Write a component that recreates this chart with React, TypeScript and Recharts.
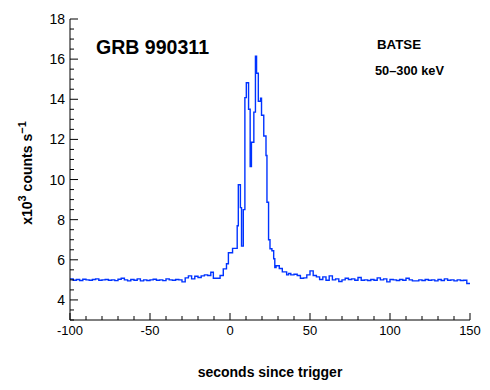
import React from "react";
import { LineChart, Line, XAxis, YAxis } from "recharts";

// 2-s bins before the burst, start times -100 .. -14
const preStart = -100;
const preRates = [
  5.05, 4.98, 5.02, 4.97, 5.03, 5.0, 4.98, 5.02, 5.05, 4.98, 5.0, 5.02, 4.98, 5.0, 4.96,
  5.03, 5.08, 5.0, 4.95, 5.02, 4.98, 5.05, 4.95, 5.0, 4.97, 5.0, 5.03, 4.98, 5.0, 4.96,
  5.05, 5.0, 4.98, 5.02, 5.0, 4.9, 5.1, 5.2, 5.05, 5.18, 5.12, 5.2, 5.25, 5.22,
];

// burst region, irregular bins (start time of each step)
const burstTimes = [
  -12, -10.4, -6.2, -4.2, -2.2, -1.0, 1.6, 4.5, 5.2, 6.5, 7.2, 8.3, 9.3, 10.2, 11.6, 12.6,
  13.4, 14.9, 15.9, 16.6, 17.7, 19.1, 19.7, 21.1, 22.5, 23.1, 24.1, 25.0, 26.2, 27.3, 28.0,
  28.8, 30.8, 32.7, 35.4, 36.6, 38.0,
];
const burstRates = [
  5.38, 5.08, 5.22, 5.55, 5.8, 6.35, 6.57, 7.7, 9.74, 8.6, 6.68, 8.5, 14.08, 14.82, 13.5,
  10.65, 11.86, 13.36, 16.15, 15.3, 13.9, 14.05, 13.2, 12.17, 11.2, 8.87, 7.0, 6.55, 6.45,
  6.05, 5.62, 5.7, 5.57, 5.4, 5.25, 5.32, 5.25,
];

// 2-s bins after the burst, start times 40 .. 148
const postStart = 40;
const postRates = [
  5.28, 5.22, 5.08, 5.1, 5.25, 5.45, 5.22, 5.15, 5.02, 5.15, 4.98, 5.2, 5.0, 5.05, 4.92,
  5.0, 5.08, 5.02, 5.05, 4.98, 5.12, 4.98, 5.0, 4.97, 5.02, 4.98, 5.1, 5.0, 5.05, 4.9,
  5.02, 5.0, 4.97, 5.02, 4.98, 5.08, 5.0, 4.95, 4.95, 5.0, 4.97, 5.02, 4.98, 5.0, 4.95,
  5.02, 4.97, 5.05, 4.98, 5.0, 4.95, 5.0, 4.97, 4.98, 4.82,
];

const xTicks = [
  -100, -90, -80, -70, -60, -50, -40, -30, -20, -10, 0, 10, 20, 30, 40, 50, 60, 70, 80, 90,
  100, 110, 120, 130, 140, 150,
];
const xLabels = [-100, -50, 0, 50, 100, 150];
const yTicks = [
  3, 3.5, 4, 4.5, 5, 5.5, 6, 6.5, 7, 7.5, 8, 8.5, 9, 9.5, 10, 10.5, 11, 11.5, 12, 12.5, 13,
  13.5, 14, 14.5, 15, 15.5, 16, 16.5, 17, 17.5, 18,
];
const yLabels = [4, 6, 8, 10, 12, 14, 16, 18];

const data: { t: number; rate: number }[] = [];
preRates.forEach((r, i) => data.push({ t: preStart + 2 * i, rate: r }));
burstTimes.forEach((t, i) => data.push({ t, rate: burstRates[i] }));
postRates.forEach((r, i) => data.push({ t: postStart + 2 * i, rate: r }));
data.push({ t: 150, rate: postRates[postRates.length - 1] });

const W = 490;
const H = 390;
const TOP = 19;
const BOTTOM = 320;
const LEFT = 70;
const RIGHT = 470;
const FONT = '"Liberation Sans", Arial, Helvetica, sans-serif';

const BottomTick = (props: any) => {
  const { x, payload } = props;
  const v = payload.value;
  const major = xLabels.includes(v);
  return (
    <g>
      <line x1={x} y1={BOTTOM} x2={x} y2={BOTTOM - (major ? 7 : 4)} stroke="#000" />
      {major && (
        <text x={x} y={335} textAnchor="middle" fontSize={13} fontFamily={FONT} fill="#000">
          {v}
        </text>
      )}
    </g>
  );
};

const TopTick = (props: any) => {
  const { x, payload } = props;
  const major = xLabels.includes(payload.value);
  return <line x1={x} y1={TOP} x2={x} y2={TOP + (major ? 7 : 4)} stroke="#000" />;
};

const LeftTick = (props: any) => {
  const { y, payload } = props;
  const v = payload.value;
  const major = yLabels.includes(v);
  return (
    <g>
      <line x1={LEFT} y1={y} x2={LEFT + (major ? 8 : 4)} y2={y} stroke="#000" />
      {major && (
        <text x={65} y={y + 5} textAnchor="end" fontSize={14} fontFamily={FONT} fill="#000">
          {v}
        </text>
      )}
    </g>
  );
};

const RightTick = (props: any) => {
  const { y, payload } = props;
  const major = yLabels.includes(payload.value);
  return <line x1={RIGHT} y1={y} x2={RIGHT - (major ? 6 : 3)} y2={y} stroke="#000" />;
};

export default function App() {
  return (
    <div style={{ position: "absolute", left: 0, top: 0, width: W, height: H, background: "#fff" }}>
      <LineChart
        width={W}
        height={H}
        data={data}
        margin={{ top: TOP, right: W - RIGHT, bottom: 0, left: 0 }}
      >
        <XAxis
          xAxisId="bottom"
          dataKey="t"
          type="number"
          domain={[-100, 150]}
          ticks={xTicks}
          interval={0}
          height={H - BOTTOM}
          tickLine={false}
          axisLine={{ stroke: "#000" }}
          tick={<BottomTick />}
          allowDataOverflow
        />
        <XAxis
          xAxisId="top"
          orientation="top"
          dataKey="t"
          type="number"
          domain={[-100, 150]}
          ticks={xTicks}
          interval={0}
          height={0}
          tickLine={false}
          axisLine={{ stroke: "#000" }}
          tick={<TopTick />}
          allowDataOverflow
        />
        <YAxis
          yAxisId="left"
          type="number"
          domain={[3, 18]}
          ticks={yTicks}
          interval={0}
          width={LEFT}
          tickLine={false}
          axisLine={{ stroke: "#000" }}
          tick={<LeftTick />}
          allowDataOverflow
        />
        <YAxis
          yAxisId="right"
          orientation="right"
          type="number"
          domain={[3, 18]}
          ticks={yTicks}
          interval={0}
          width={0}
          tickLine={false}
          axisLine={{ stroke: "#000" }}
          tick={<RightTick />}
          allowDataOverflow
        />
        <Line
          xAxisId="bottom"
          yAxisId="left"
          type="stepAfter"
          dataKey="rate"
          stroke="#0033ff"
          strokeWidth={1.4}
          dot={false}
          activeDot={false}
          isAnimationActive={false}
        />
      </LineChart>
      <svg
        width={W}
        height={H}
        style={{ position: "absolute", left: 0, top: 0, pointerEvents: "none" }}
        fontFamily={FONT}
      >
        <text x={96} y={54} fontSize={20} fontWeight="bold" textLength={113} lengthAdjust="spacingAndGlyphs">
          GRB 990311
        </text>
        <text x={377} y={49} fontSize={12} fontWeight="bold" textLength={44} lengthAdjust="spacingAndGlyphs">
          BATSE
        </text>
        <text x={375} y={75} fontSize={12} fontWeight="bold" textLength={69} lengthAdjust="spacingAndGlyphs">
          50–300 keV
        </text>
        <text x={270} y={377} fontSize={14} fontWeight="bold" textAnchor="middle">
          seconds since trigger
        </text>
        <text
          transform="translate(32,173) rotate(-90)"
          fontSize={14}
          fontWeight="bold"
          textAnchor="middle"
        >
          x10<tspan dy={-6} fontSize={11}>3</tspan>
          <tspan dy={6}> counts s</tspan>
          <tspan dy={-6} fontSize={11}>−1</tspan>
        </text>
      </svg>
    </div>
  );
}
